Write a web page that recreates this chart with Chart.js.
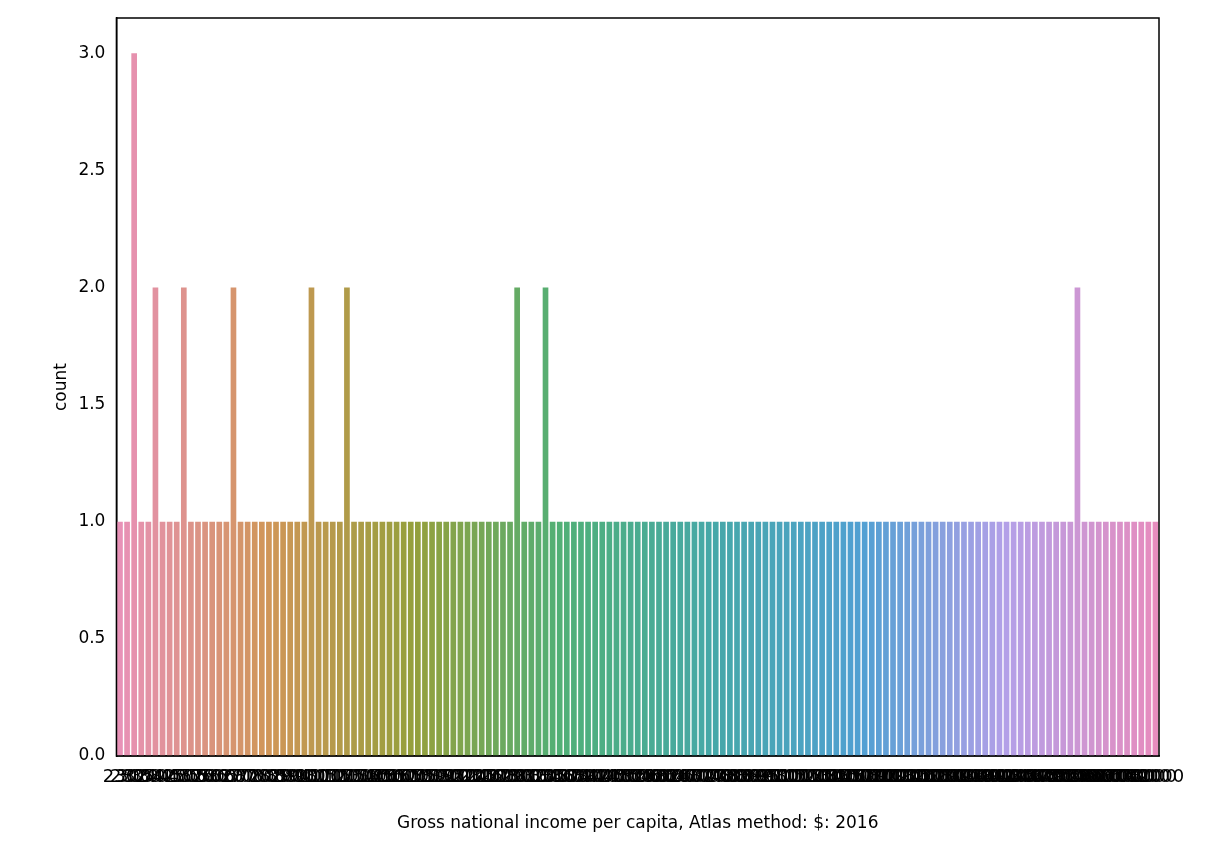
<!DOCTYPE html>
<html lang="en">
<head>
<meta charset="UTF-8">
<title>Count plot</title>
<script src="https://cdn.jsdelivr.net/npm/chart.js@4/dist/chart.umd.min.js"></script>
<style>body{margin:0;background:#fff}</style>
</head>
<body>
<canvas id="myChart" width="1229" height="858"></canvas>
<script>
// GNI per capita categories (sorted) and their counts
const incomes = [230,280,300,320,350,380,400,420,450,480,500,520,550,580,600,620,650,680,700,720,760,800,820,850,880,900,940,980,1000,1050,1100,1150,1200,1250,1300,1350,1400,1450,1500,1550,1600,1650,1700,1750,1800,1850,1900,1950,2000,2100,2200,2300,2400,2500,2600,2700,2800,2900,3000,3100,3200,3300,3400,3500,3600,3700,3800,3900,4000,4200,4400,4600,4800,5000,5200,5400,5600,5800,6000,6200,6400,6600,6800,7000,7200,7400,7600,7800,8000,8300,8600,8900,9200,9500,9800,10000,10500,11000,11500,12000,12500,13000,13500,14000,14500,15000,16000,17000,18000,19000,20000,21000,22000,23000,24000,25000,26000,27000,28000,29000,30000,32000,34000,36000,38000,40000,41000,42000,43000,44000,45000,46000,47000,48000,49000,50000,52000,54000,56000,58000,60000,63000,66000,70000,74000,78000,82000];
const counts = [1,1,3,1,1,2,1,1,1,2,1,1,1,1,1,1,2,1,1,1,1,1,1,1,1,1,1,2,1,1,1,1,2,1,1,1,1,1,1,1,1,1,1,1,1,1,1,1,1,1,1,1,1,1,1,1,2,1,1,1,2,1,1,1,1,1,1,1,1,1,1,1,1,1,1,1,1,1,1,1,1,1,1,1,1,1,1,1,1,1,1,1,1,1,1,1,1,1,1,1,1,1,1,1,1,1,1,1,1,1,1,1,1,1,1,1,1,1,1,1,1,1,1,1,1,1,1,1,1,1,1,1,1,1,1,2,1,1,1,1,1,1,1,1,1,1,1,1,1];

// husl-like palette anchors
const anchors = [[232,145,183],[208,150,88],[148,160,60],[80,176,120],[70,168,168],[80,160,210],[180,160,232],[230,140,190]];
function color(i, n) {
  const t = i / (n - 1) * (anchors.length - 1);
  const k = Math.min(Math.floor(t), anchors.length - 2), f = t - k;
  const c = anchors[k].map((v, j) => Math.round(v + (anchors[k + 1][j] - v) * f));
  return `rgb(${c[0]},${c[1]},${c[2]})`;
}

const frame = {
  id: 'frame',
  afterDraw(chart) {
    const a = chart.chartArea, ctx = chart.ctx;
    ctx.save();
    ctx.strokeStyle = '#000';
    ctx.lineWidth = 1.5;
    ctx.strokeRect(a.left, a.top, a.right - a.left, a.bottom - a.top);
    ctx.restore();
  }
};

new Chart(document.getElementById('myChart').getContext('2d'), {
  type: 'bar',
  data: {
    labels: incomes.map(String),
    datasets: [{
      data: counts,
      backgroundColor: incomes.map((_, i) => color(i, incomes.length)),
      barPercentage: 0.8,
      categoryPercentage: 1.0
    }]
  },
  options: {
    responsive: false,
    animation: false,
    layout: { padding: { top: 18, right: 70, left: 47, bottom: 20 } },
    plugins: { legend: { display: false }, tooltip: { enabled: false } },
    scales: {
      x: {
        grid: { display: false, drawTicks: true, tickLength: 8, tickColor: '#000' },
        border: { color: '#000', width: 1.5 },
        ticks: { autoSkip: false, maxRotation: 0, minRotation: 0, color: '#000', font: { family: 'DejaVu Sans', size: 18 } },
        title: { display: true, text: 'Gross national income per capita, Atlas method: $: 2016', color: '#000', padding: { top: 22 }, font: { family: 'DejaVu Sans', size: 17 } }
      },
      y: {
        min: 0, max: 3.15,
        afterBuildTicks: s => { s.ticks = s.ticks.filter(t => Math.round(t.value * 2) === t.value * 2); },
        grid: { display: false, drawTicks: true, tickLength: 8, tickColor: '#000' },
        border: { color: '#000', width: 1.5 },
        ticks: { stepSize: 0.5, color: '#000', callback: v => v.toFixed(1), font: { family: 'DejaVu Sans', size: 17 } },
        title: { display: true, text: 'count', color: '#000', font: { family: 'DejaVu Sans', size: 17 } }
      }
    }
  },
  plugins: [frame]
});
</script>
</body>
</html>
